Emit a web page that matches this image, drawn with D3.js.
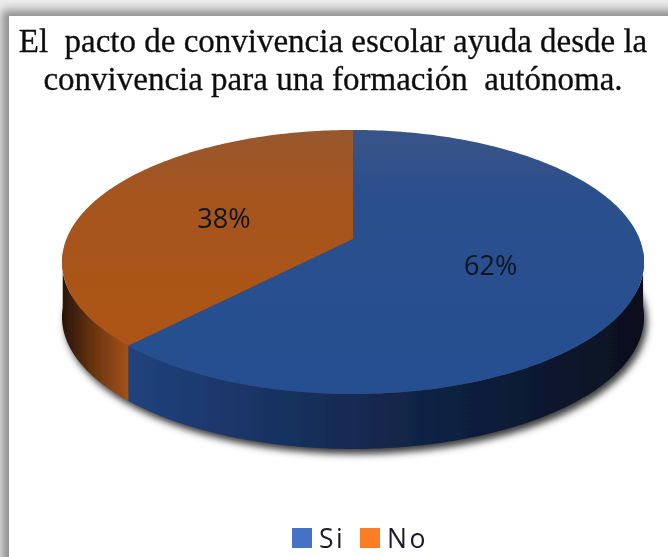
<!DOCTYPE html>
<html>
<head>
<meta charset="utf-8">
<script src="https://cdn.jsdelivr.net/npm/d3@7"></script>
<style>
    html, body { margin: 0; padding: 0; background: #fff; overflow: hidden; }
    svg { display: block; }
    text { white-space: pre; }
</style>
</head>
<body>
<div id="chart"></div>
<script>
const categories = ['Si', 'No'];
const percents = [62, 38];
const titleLines = [
    'El  pacto de convivencia escolar ayuda desde la',
    'convivencia para una formación  autónoma.'
];

const width = 668;
const height = 557;

const svg = d3.select('#chart')
    .append('svg')
    .attr('width', width)
    .attr('height', height);

const defs = svg.append('defs');

function linearGradient(id, x1, y1, x2, y2, stops) {
    const g = defs.append('linearGradient')
        .attr('id', id)
        .attr('gradientUnits', 'userSpaceOnUse')
        .attr('x1', x1).attr('y1', y1)
        .attr('x2', x2).attr('y2', y2);
    stops.forEach(s => g.append('stop').attr('offset', s[0]).attr('stop-color', s[1]));
}

function blur(id, dev) {
    defs.append('filter')
        .attr('id', id)
        .attr('x', '-20%').attr('y', '-20%')
        .attr('width', '140%').attr('height', '140%')
        .append('feGaussianBlur')
        .attr('stdDeviation', dev);
}

blur('soft', 3.5);
blur('frameBlur', 5);
blur('fine', 0.6);

// card with its drop shadow, it runs off the right and bottom of the picture
svg.append('rect')
    .attr('width', width).attr('height', height)
    .attr('fill', '#ececec');
svg.append('rect')
    .attr('x', 2).attr('y', 10)
    .attr('width', width + 40).attr('height', height + 40)
    .attr('fill', '#8e8e8e')
    .attr('filter', 'url(#frameBlur)');
svg.append('rect')
    .attr('x', 9).attr('y', 16)
    .attr('width', width).attr('height', height)
    .attr('fill', '#fff');

svg.append('g')
    .attr('filter', 'url(#fine)')
    .selectAll('text')
    .data(titleLines)
    .join('text')
    .attr('x', 333)
    .attr('y', (d, i) => 52 + i * 38)
    .attr('text-anchor', 'middle')
    .attr('font-family', '"Liberation Serif", serif')
    .attr('font-size', 33)
    .attr('fill', '#111')
    .attr('stroke', '#111')
    .attr('stroke-width', 0.3)
    .text(d => d);

// perspective view of the 3D pie: the disc is tilted, so the near half looks bigger
const cx = 353;
const cy = 239;
const spreadX = 286.6;
const spreadY = 128;
const tilt = 0.174;
const depth = 55;

function project(angle, radius, drop) {
    const u = Math.sin(angle) * radius;
    const v = Math.cos(angle) * radius;
    const w = 1 + tilt * v;
    return [cx + spreadX * u / w, cy + (drop || 0) - spreadY * v / w];
}

const color = d3.scaleOrdinal().domain(categories).range(['#27508f', '#a9551a']);
const legendColor = d3.scaleOrdinal().domain(categories).range(['#4472c4', '#fb7d26']);
const radiusLine = d3.line();

const arcs = d3.pie().sort(null)(percents).map((d, i) => ({ ...d, name: categories[i] }));

function rimPoints(a, drop) {
    const n = Math.ceil((a.endAngle - a.startAngle) * 60);
    return d3.range(n + 1).map(k => project(a.startAngle + (a.endAngle - a.startAngle) * k / n, 1, drop));
}

function wedgePath(a) {
    return radiusLine([project(0, 0), ...rimPoints(a, 0)]) + 'Z';
}

// only the part of the rim that faces the viewer gets a side wall
function sidePath(a) {
    const rim = rimPoints(a, 0).filter(p => p[1] >= cy + 12);
    const low = rim.map(p => [p[0], p[1] + depth]).reverse();
    return radiusLine([...rim, ...low]) + 'Z';
}

const whole = { startAngle: 0, endAngle: 2 * Math.PI };

// ground shadow
svg.append('path')
    .attr('d', radiusLine(rimPoints(whole, depth + 5)) + 'Z')
    .attr('transform', 'translate(3,0)')
    .attr('fill', '#3c3c3c')
    .attr('filter', 'url(#soft)');

linearGradient('side-Si', 122, 0, 640, 0, [[0, '#21427e'], [0.45, '#142a52'], [1, '#070f1e']]);
linearGradient('side-No', 64, 0, 128, 0, [[0, '#2c1606'], [0.5, '#6e3610'], [1, '#a3511a']]);
linearGradient('top-Si', 0, 130, 0, 394, [[0, '#3a5488'], [0.25, '#2a4f8c'], [1, '#274f92']]);
linearGradient('top-No', 0, 130, 0, 346, [[0, '#97582f'], [0.3, '#a5541f'], [1, '#ae5514']]);

const pieGroup = svg.append('g').attr('filter', 'url(#fine)');

pieGroup.append('g')
    .selectAll('path')
    .data(arcs)
    .join('path')
    .attr('d', sidePath)
    .attr('fill', d => `url(#side-${d.name})`);

pieGroup.append('g')
    .selectAll('path')
    .data(arcs)
    .join('path')
    .attr('d', wedgePath)
    .attr('fill', d => `url(#top-${d.name})`);

pieGroup.append('g')
    .selectAll('text')
    .data(arcs)
    .join('text')
    .attr('transform', d => {
        const p = project((d.startAngle + d.endAngle) / 2, 0.5);
        return `translate(${p[0]},${p[1] + 2})`;
    })
    .attr('text-anchor', 'middle')
    .attr('dy', '0.35em')
    .attr('font-family', '"Open Sans", sans-serif')
    .attr('font-size', 27)
    .attr('fill', '#0d1420')
    .text(d => d.value + '%');

// legend
const legendX = d3.scaleOrdinal().domain(categories).range([292, 360]);

const legend = svg.append('g')
    .attr('filter', 'url(#fine)')
    .selectAll('g')
    .data(categories)
    .join('g')
    .attr('transform', d => `translate(${legendX(d)},528)`);

legend.append('rect')
    .attr('width', 20)
    .attr('height', 20)
    .attr('fill', d => legendColor(d));

legend.append('text')
    .attr('x', 27)
    .attr('y', 20)
    .attr('font-family', '"Open Sans", sans-serif')
    .attr('font-size', 26.5)
    .attr('letter-spacing', 2.5)
    .attr('fill', '#1a1a2a')
    .text(d => d);
</script>
</body>
</html>
